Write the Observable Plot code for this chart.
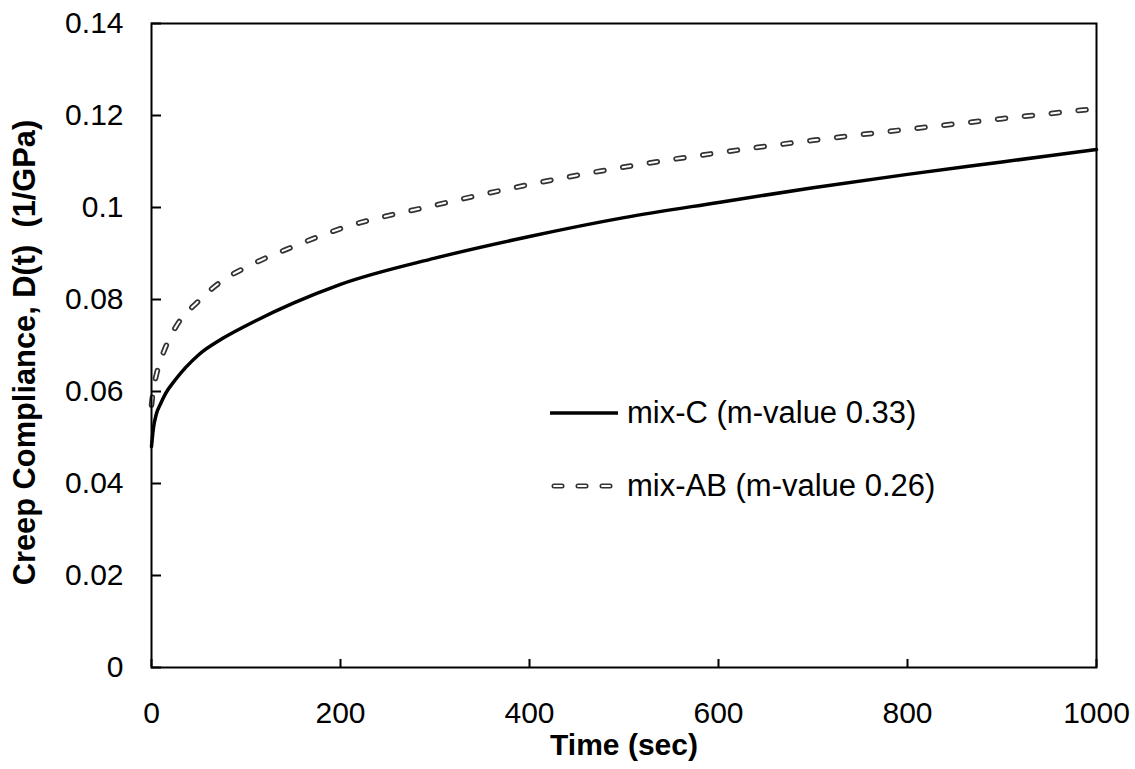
<!DOCTYPE html>
<html>
<head>
<meta charset="utf-8">
<script src="https://cdn.jsdelivr.net/npm/d3@7"></script>
<script src="https://cdn.jsdelivr.net/npm/@observablehq/plot@0.6"></script>
<style>
  html, body { margin: 0; padding: 0; background: #fff; }
  #wrap { position: relative; width: 1135px; height: 769px; font-family: "Liberation Sans", Arial, sans-serif; }
  #legend { position: absolute; left: 549px; top: 395px; font-size: 31px; color: #000; }
  #legend .row { display: flex; align-items: center; height: 36px; white-space: nowrap; }
  #legend .row + .row { margin-top: 37px; }
  #legend svg { display: block; margin-right: 8px; }
</style>
</head>
<body>
<div id="wrap"></div>
<script>
// Time (sec)
const times = [0, 2, 5, 10, 15, 25, 50, 75, 100, 150, 200, 300, 400, 500, 600, 700, 800, 900, 1000];
// mix-C (m-value 0.33), creep compliance 1/GPa
const mixC = [0.048, 0.052, 0.055, 0.0575, 0.0596, 0.0625, 0.068, 0.0715, 0.0743, 0.0792, 0.0833, 0.0890, 0.0937, 0.0978, 0.1011, 0.1043, 0.1072, 0.1099, 0.1126];
// mix-AB (m-value 0.26)
const mixAB = [0.057, 0.0605, 0.0635, 0.0670, 0.0697, 0.0738, 0.0797, 0.0841, 0.0870, 0.0915, 0.0954, 0.1005, 0.1050, 0.1088, 0.1119, 0.1146, 0.1170, 0.1193, 0.1215];
const seriesNames = ["mix-C (m-value 0.33)", "mix-AB (m-value 0.26)"];
const xTicks = [0, 200, 400, 600, 800, 1000];
const yTicks = [0, 0.02, 0.04, 0.06, 0.08, 0.1, 0.12, 0.14];
const xTitle = "Time (sec)";
const yTitle = "Creep Compliance, D(t)  (1/GPa)";

const dataC = times.map((t, i) => ({t, d: mixC[i]}));
const dataAB = times.map((t, i) => ({t, d: mixAB[i]}));

const font = "Liberation Sans, Arial, sans-serif";
const dash = "8,19";

const chart = Plot.plot({
  width: 1135,
  height: 769,
  marginLeft: 151,
  marginRight: 39,
  marginTop: 23,
  marginBottom: 102,
  style: {fontFamily: font, fontSize: "30px", color: "#000", background: "#fff"},
  x: {domain: [0, 1000]},
  y: {domain: [0, 0.14]},
  marks: [
    Plot.axisX({ticks: xTicks, tickSize: -8, fill: "none", strokeWidth: 2, label: null}),
    Plot.axisX({ticks: xTicks, tickSize: 0, tickPadding: 34, tickFormat: d => String(d), label: null, fontSize: 30}),
    Plot.axisY({ticks: yTicks, tickSize: -10, fill: "none", strokeWidth: 2, label: null}),
    Plot.axisY({ticks: yTicks, tickSize: 0, tickPadding: 28, tickFormat: d => String(d), label: null, fontSize: 30}),
    Plot.line(dataAB, {x: "t", y: "d", curve: "monotone-x", stroke: "#333", strokeWidth: 5.5, strokeDasharray: dash, strokeLinecap: "round"}),
    Plot.line(dataAB, {x: "t", y: "d", curve: "monotone-x", stroke: "#fff", strokeWidth: 2, strokeDasharray: dash, strokeLinecap: "round"}),
    Plot.line(dataC, {x: "t", y: "d", curve: "monotone-x", stroke: "#000", strokeWidth: 3.5}),
    Plot.frame({stroke: "#000", strokeWidth: 2}),
    Plot.text([xTitle], {frameAnchor: "bottom", dy: 87, fontWeight: "bold", fontSize: 30, fill: "#000"}),
    Plot.text([yTitle], {frameAnchor: "left", textAnchor: "middle", dx: -126, dy: 7, rotate: -90, fontWeight: "bold", fontSize: 30.8, fill: "#000"})
  ]
});

const wrap = document.getElementById("wrap");
wrap.appendChild(chart);

const legend = document.createElement("div");
legend.id = "legend";
legend.innerHTML = `
  <div class="row">
    <svg width="70" height="10"><line x1="1" y1="5" x2="69" y2="5" stroke="#000" stroke-width="3.5"/></svg>
    <span>${seriesNames[0]}</span>
  </div>
  <div class="row">
    <svg width="70" height="10">
      <line x1="5" y1="5" x2="69" y2="5" stroke="#333" stroke-width="5" stroke-linecap="round" stroke-dasharray="8,16"/>
      <line x1="5" y1="5" x2="69" y2="5" stroke="#fff" stroke-width="1.8" stroke-linecap="round" stroke-dasharray="8,16"/>
    </svg>
    <span>${seriesNames[1]}</span>
  </div>`;
wrap.appendChild(legend);
</script>
</body>
</html>
